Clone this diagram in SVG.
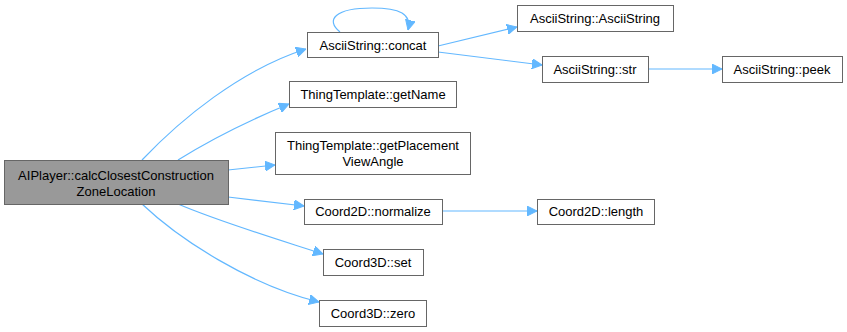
<svg xmlns="http://www.w3.org/2000/svg" width="847" height="332" viewBox="0 0 847 332">
<style>
  .node rect { fill: #ffffff; stroke: #666666; stroke-width: 1; }
  .node.root rect { fill: #999999; }
  .node text { font-family: "Liberation Sans", Arial, sans-serif; font-size: 13px; fill: #000000; text-anchor: middle; }
  .edges path { fill: none; stroke: #63b8ff; stroke-width: 1.2; }
</style>
<defs>
  <marker id="arrow" viewBox="0 0 10 10" refX="10" refY="5" markerWidth="10" markerHeight="10" markerUnits="userSpaceOnUse" orient="auto">
    <path d="M0,0 L10,5 L0,10 z" fill="#63b8ff" stroke="#63b8ff"/>
  </marker>
</defs>

<g class="edges">
  <path d="M142,160 C180,120 240,70 306,49" marker-end="url(#arrow)"/>
  <path d="M178,160 C210,140 250,120 289,104" marker-end="url(#arrow)"/>
  <path d="M228,170 L275,165" marker-end="url(#arrow)"/>
  <path d="M228,197 L304,206" marker-end="url(#arrow)"/>
  <path d="M178,204 C220,222 280,240 323,254" marker-end="url(#arrow)"/>
  <path d="M142,204 C180,240 250,285 319,302" marker-end="url(#arrow)"/>
  <path d="M340,32 C325,20 335,8 372,8 C400,8 412,14 408,30" marker-end="url(#arrow)"/>
  <path d="M438,46 L517,27" marker-end="url(#arrow)"/>
  <path d="M438,52 L542,65" marker-end="url(#arrow)"/>
  <path d="M648,69 L722,69" marker-end="url(#arrow)"/>
  <path d="M442,211 L537,211" marker-end="url(#arrow)"/>
</g>

<g id="node-root" class="node root">
  <rect x="4.5" y="160.5" width="224" height="44"/>
  <text x="116" y="180">AIPlayer::calcClosestConstruction</text>
  <text x="116" y="196">ZoneLocation</text>
</g>
<g id="node-concat" class="node">
  <rect x="307.5" y="32.5" width="131" height="25"/>
  <text x="373" y="50">AsciiString::concat</text>
</g>
<g id="node-getname" class="node">
  <rect x="289.5" y="81.5" width="167" height="26"/>
  <text x="373" y="99">ThingTemplate::getName</text>
</g>
<g id="node-placement" class="node">
  <rect x="275.5" y="132.5" width="195" height="42"/>
  <text x="373" y="150">ThingTemplate::getPlacement</text>
  <text x="373" y="166">ViewAngle</text>
</g>
<g id="node-normalize" class="node">
  <rect x="304.5" y="199.5" width="138" height="25"/>
  <text x="373" y="216">Coord2D::normalize</text>
</g>
<g id="node-set" class="node">
  <rect x="323.5" y="249.5" width="100" height="26"/>
  <text x="373" y="267">Coord3D::set</text>
</g>
<g id="node-zero" class="node">
  <rect x="319.5" y="300.5" width="107" height="26"/>
  <text x="373" y="318">Coord3D::zero</text>
</g>
<g id="node-asciistring" class="node">
  <rect x="517.5" y="5.5" width="156" height="26"/>
  <text x="595" y="23">AsciiString::AsciiString</text>
</g>
<g id="node-str" class="node">
  <rect x="542.5" y="56.5" width="106" height="26"/>
  <text x="595" y="74">AsciiString::str</text>
</g>
<g id="node-peek" class="node">
  <rect x="722.5" y="56.5" width="120" height="26"/>
  <text x="782" y="74">AsciiString::peek</text>
</g>
<g id="node-length" class="node">
  <rect x="537.5" y="199.5" width="117" height="25"/>
  <text x="596" y="216">Coord2D::length</text>
</g>
</svg>
